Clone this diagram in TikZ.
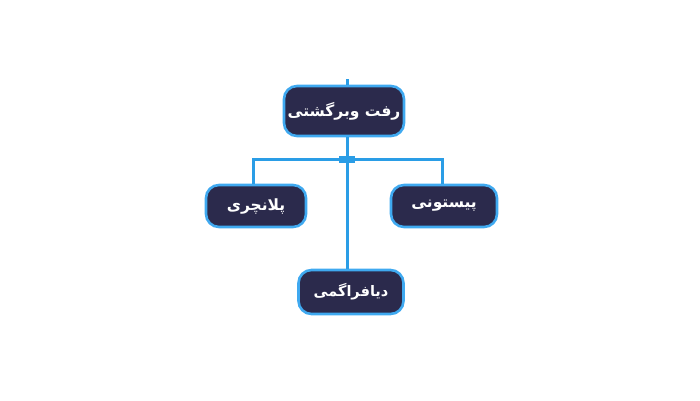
\documentclass[tikz,border=0pt]{standalone}
\usepackage{fontspec}
\newfontfamily\farsifont[Script=Arabic]{DejaVu Sans Bold}
\TeXXeTstate=1
\usepackage{xcolor}
\usetikzlibrary{positioning, calc}

\definecolor{boxfill}{HTML}{2B2A4C}
\definecolor{boxline}{HTML}{3FA9F0}
\definecolor{wire}{HTML}{2A9DE6}

\tikzset{
    box/.style={draw=boxline, fill=boxfill, line width=2.6pt, rounded corners=13pt,
        text=white, font=\farsifont, inner sep=0pt},
    wireline/.style={draw=wire, line width=3pt}
}

\begin{document}
\begin{tikzpicture}[x=1pt, y=-1pt]
    \useasboundingbox (0,0) rectangle (700,400);

    % main boxes
    \node [box, minimum width=120pt, minimum height=50pt, font=\farsifont\fontsize{15.5}{18}\selectfont] (main) at (344,111) {\beginR رفت وبرگشتی\endR};
    \node [box, minimum width=100pt, minimum height=42pt, font=\farsifont\fontsize{15.5}{18}\selectfont] (plunger) at (256,206) {\beginR پلانچری\endR};
    \node [box, minimum width=106pt, minimum height=42pt, font=\farsifont\fontsize{15.5}{18}\selectfont] (piston) at (444,206) {\beginR پیستونی\endR};
    \node [box, minimum width=105pt, minimum height=44pt, font=\farsifont\fontsize{14.5}{17}\selectfont] (diaphragm) at (351,292) {\beginR دیافراگمی\endR};

    % wires
    \coordinate (stub) at (347,79);
    \coordinate (hub) at (347,159);
    \coordinate (leftend) at (253,159);
    \coordinate (rightend) at (442,159);

    \draw [wireline] (stub) -- (stub |- main.north);
    \draw [wireline] (hub |- main.south) -- (hub |- diaphragm.north);
    \draw [wireline] (leftend |- plunger.north) -- (leftend) -- (rightend) -- (rightend |- piston.north);
    \fill [wire] ($(hub)+(-8,-3.5)$) rectangle ($(hub)+(8,3.5)$);
\end{tikzpicture}
\end{document}
